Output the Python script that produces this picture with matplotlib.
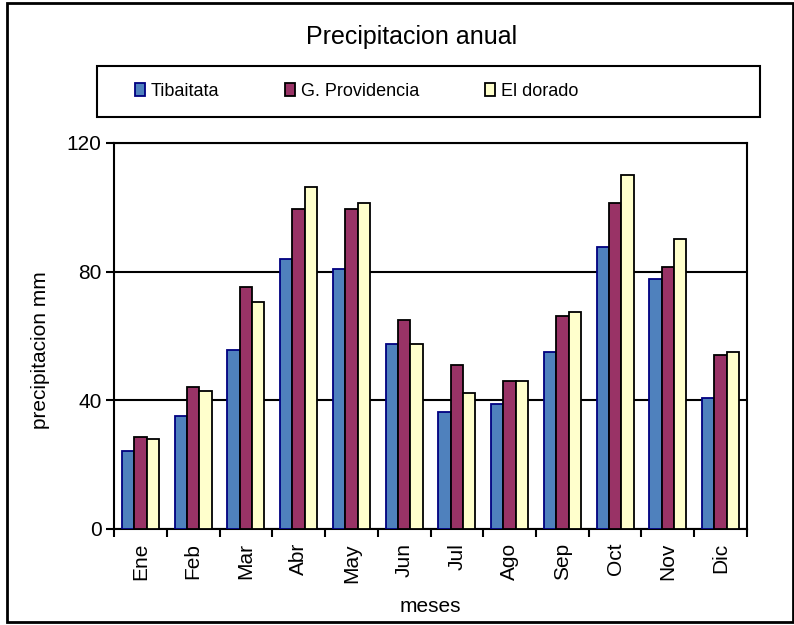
import matplotlib
matplotlib.use("Agg")
import matplotlib.pyplot as plt
from matplotlib.patches import Rectangle, Patch
import numpy as np

# data
meses = ["Ene", "Feb", "Mar", "Abr", "May", "Jun", "Jul", "Ago", "Sep", "Oct", "Nov", "Dic"]
tibaitata = [24.4, 35.0, 55.7, 83.8, 80.7, 57.6, 36.3, 38.9, 55.1, 87.6, 77.6, 40.7]
providencia = [28.7, 44.3, 75.1, 99.4, 99.4, 65.0, 51.1, 46.1, 66.2, 101.4, 81.4, 54.2]
dorado = [27.9, 43.0, 70.6, 106.3, 101.4, 57.5, 42.3, 46.1, 67.4, 110.2, 90.2, 55.0]
series_names = ["Tibaitata", "G. Providencia", "El dorado"]
y_ticks = [0, 40, 80, 120]

plt.rcParams['font.family'] = ['Liberation Sans', 'DejaVu Sans']

fig = plt.figure(figsize=(7.94, 6.25), dpi=100)
ax = fig.add_axes([0.1436, 0.1536, 0.7972, 0.6176])

x = np.arange(len(meses))
w = 0.235
colors = ['#4F81BD', '#993366', '#FFFFCC']
edges = ['#000080', 'black', 'black']
for i, vals in enumerate([tibaitata, providencia, dorado]):
    ax.bar(x + (i - 1) * w, vals, w, color=colors[i], edgecolor=edges[i],
           linewidth=1.3, zorder=3, label=series_names[i])

ax.set_xlim(-0.5, len(meses) - 0.5)
ax.set_ylim(0, 120)
ax.set_yticks(y_ticks)
ax.set_yticklabels([str(v) for v in y_ticks], fontsize=15)
ax.yaxis.grid(True, color='black', linewidth=1.5, zorder=1)
ax.tick_params(axis='y', length=6, width=1.5, direction='out', pad=3)

# labels at the bar groups, tick marks between them
ax.set_xticks(x)
ax.set_xticklabels(meses, rotation=90, fontsize=15)
ax.set_xticks(np.arange(-0.5, len(meses)), minor=True)
ax.tick_params(axis='x', which='major', length=0, pad=10)
ax.tick_params(axis='x', which='minor', length=6, width=1.5, direction='out')

for s in ax.spines.values():
    s.set_linewidth(1.5)
    s.set_color('black')

fig.text(0.518, 0.941, "Precipitacion anual", fontsize=18, ha='center', va='center')
fig.text(0.5424, 0.0304, "meses", fontsize=15, ha='center', va='center')
fig.text(0.051, 0.44, "precipitacion mm", fontsize=15, rotation=90, ha='center', va='center')

# legend box
fig.add_artist(Rectangle((97 / 794, 1 - 117 / 625), 663 / 794, 51 / 625,
                         transform=fig.transFigure, fill=False, edgecolor='black', linewidth=1.5))
handles = [Patch(facecolor=colors[i], edgecolor=edges[i], linewidth=1.3) for i in range(3)]
fig.legend(handles, series_names, ncol=3, mode='expand', loc='center',
           bbox_to_anchor=(135 / 794, 0.8344, 443 / 794, 0.04), frameon=False,
           handlelength=0.55, handleheight=0.75, handletextpad=0.3, borderpad=0,
           borderaxespad=0, fontsize=13)

# outer border of the chart
fig.add_artist(Rectangle((7 / 794, 3 / 625), 786 / 794, 619 / 625,
                         transform=fig.transFigure, fill=False, edgecolor='black', linewidth=2))

fig.savefig("out.png", dpi=100)
